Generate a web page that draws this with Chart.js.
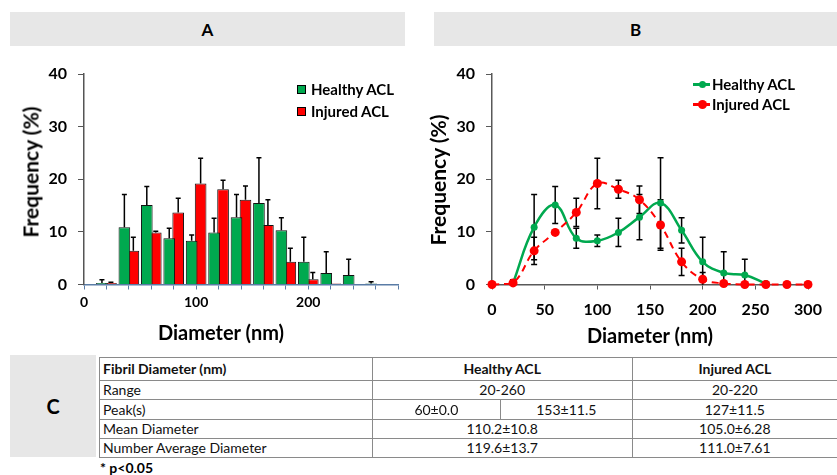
<!DOCTYPE html>
<html>
<head>
<meta charset="utf-8">
<script src="https://cdn.jsdelivr.net/npm/chart.js@4.4.1/dist/chart.umd.min.js"></script>
<style>
html,body{margin:0;padding:0;background:#fff;}
body{width:837px;height:475px;position:relative;overflow:hidden;font-family:Lato,'Open Sans',sans-serif;color:#000;}
.hdr{position:absolute;top:12px;height:34px;background:#e7e7e7;font-weight:bold;font-size:17px;display:flex;align-items:center;justify-content:center;}
canvas{position:absolute;}
.title{position:absolute;font-weight:bold;white-space:nowrap;transform:translate(-50%,-50%);line-height:1;}
.ytitle{transform:translate(-50%,-50%) rotate(-90deg);}
.leg{position:absolute;font-weight:bold;font-size:15px;white-space:nowrap;display:flex;align-items:center;height:20px;}
.sq{width:9px;height:9px;border:1px solid #000;box-sizing:border-box;margin-right:5px;}
.ln{position:relative;width:17px;height:20px;margin-right:2px;}
.ln .bar{position:absolute;left:0;right:0;top:9px;height:2.5px;}
.ln .dot{position:absolute;border-radius:50%;}
#cbox{position:absolute;left:10px;top:355px;width:86px;height:102px;background:#e7e7e7;font-weight:bold;font-size:20px;display:flex;align-items:center;justify-content:center;}
#tbl{position:absolute;left:99px;top:357px;border-collapse:collapse;table-layout:fixed;width:738px;font-size:14px;color:#111;}
#tbl td{border:1px solid #8a8a8a;padding:0 3px;white-space:nowrap;overflow:hidden;line-height:1;}
#tbl td.c{text-align:center;}
#tbl tr.h td{font-weight:bold;}
#note{position:absolute;left:100px;top:459px;font-weight:bold;font-size:14px;}
</style>
</head>
<body>
<div class="hdr" style="left:10px;width:395px;">A</div>
<div class="hdr" style="left:434px;width:403px;">B</div>

<canvas id="cA" width="420" height="300" style="left:0;top:50px;"></canvas>
<canvas id="cB" width="417" height="300" style="left:420px;top:50px;"></canvas>

<div class="title" style="left:221px;top:332px;font-size:20px;">Diameter (nm)</div>
<div class="title ytitle" style="left:30px;top:172px;font-size:21px;">Frequency (%)</div>
<div class="title" style="left:650px;top:335px;font-size:20px;">Diameter (nm)</div>
<div class="title ytitle" style="left:437px;top:180px;font-size:21px;">Frequency (%)</div>

<div id="legA"></div>
<div id="legB"></div>

<div id="cbox">C</div>
<table id="tbl"></table>
<div id="note">* p&lt;0.05</div>

<script>
// ---- data ----
const diameters   = [0, 20, 40, 60, 80, 100, 120, 140, 160, 180, 200, 220, 240, 260, 280, 300];
const healthyFreq = [null, 0.3, 10.9, 15.1, 8.8, 8.3, 9.9, 12.8, 15.5, 10.3, 4.3, 2.2, 1.8, 0.2, null, null];
const healthySD   = [null, 0.6, 6.2, 3.5, 1.9, 1.1, 2.7, 4.3, 8.6, 2.4, 4.7, 4.0, 3.0, 0.3, null, null];
const injuredFreq = [0, 0.3, 6.4, 9.9, 13.7, 19.2, 18.1, 16.1, 11.3, 4.3, 1.0, 0.2, 0, 0, 0, 0];
const injuredSD   = [0, 0.15, 2.6, 0.2, 2.7, 4.8, 1.7, 2.6, 4.8, 2.6, 1.3, 0, 0, 0, 0, 0];
const seriesNames = ['Healthy ACL', 'Injured ACL'];
const xTickLabelsA = [0, 100, 200];
const xTickLabelsB = [0, 50, 100, 150, 200, 250, 300];
const yTickLabels  = [0, 10, 20, 30, 40];

const tableHeader = ['Fibril Diameter (nm)', 'Healthy ACL', 'Injured ACL'];
const tableRowNames = ['Range', 'Peak(s)', 'Mean Diameter', 'Number Average Diameter'];
const tableHealthy = [['20-260'], ['60±0.0', '153±11.5'], ['110.2±10.8'], ['119.6±13.7']];
const tableInjured = ['20-220', '127±11.5', '105.0±6.28', '111.0±7.61'];

// ---- styles ----
const GREEN = '#00a94f';
const RED = '#ff0000';

Chart.defaults.font.family = 'Lato';
Chart.defaults.font.weight = 'bold';
Chart.defaults.color = '#000';

const errorBarsPlugin = {
  id: 'errorBars',
  _draw(chart, o) {
    const ctx = chart.ctx, ys = chart.scales.y;
    ctx.save();
    ctx.strokeStyle = o.color || '#000';
    ctx.lineWidth = o.width || 1.5;
    chart.data.datasets.forEach((ds, i) => {
      if (!ds.errors) return;
      const meta = chart.getDatasetMeta(i);
      meta.data.forEach((el, j) => {
        const p = ds.data[j];
        const v = p && typeof p === 'object' ? p.y : p;
        const e = ds.errors[j];
        if (v == null || !e) return;
        const x = el.x;
        const top = ys.getPixelForValue(v + e);
        const bot = o.symmetric ? ys.getPixelForValue(Math.max(0, v - e)) : ys.getPixelForValue(v);
        ctx.beginPath();
        ctx.moveTo(x, bot); ctx.lineTo(x, top);
        ctx.moveTo(x - o.cap, top); ctx.lineTo(x + o.cap, top);
        if (o.symmetric && v - e > 0) { ctx.moveTo(x - o.cap, bot); ctx.lineTo(x + o.cap, bot); }
        ctx.stroke();
      });
    });
    ctx.restore();
  },
  beforeDatasetsDraw(chart, args, o) { if (o.under) this._draw(chart, o); },
  afterDatasetsDraw(chart, args, o) { if (!o.under) this._draw(chart, o); }
};

function yScale(color) {
  return {
    min: 0, max: 40,
    ticks: { stepSize: 10, padding: 11, font: { size: 16 }, callback: v => yTickLabels.includes(v) ? String(v) : '' },
    grid: { drawOnChartArea: false, drawTicks: true, tickLength: 6, color: color },
    border: { display: true, color: color, width: 1.5 }
  };
}

// ---- Chart A: bars ----
const yA = yScale('#555');
yA.afterFit = s => { s.width = 84; };
new Chart(document.getElementById('cA'), {
  type: 'bar',
  data: {
    datasets: [
      { label: seriesNames[0], data: diameters.map((d, i) => ({ x: d, y: healthyFreq[i] > 0 ? healthyFreq[i] : null })),
        errors: healthySD, backgroundColor: GREEN, borderColor: '#111', borderWidth: 1,
        categoryPercentage: 0.8, barPercentage: 1.3 },
      { label: seriesNames[1], data: diameters.map((d, i) => ({ x: d, y: injuredFreq[i] > 0 ? injuredFreq[i] : null })),
        errors: injuredSD, backgroundColor: RED, borderColor: '#111', borderWidth: 1,
        categoryPercentage: 0.8, barPercentage: 1.3 }
    ]
  },
  options: {
    responsive: false, animation: false, devicePixelRatio: 1,
    layout: { padding: { top: 24, right: 22, left: 0, bottom: 0 } },
    plugins: { legend: { display: false }, tooltip: { enabled: false },
      errorBars: { symmetric: false, cap: 2.5, width: 1.5, under: false } },
    scales: {
      x: { type: 'linear', min: 0, max: 280, offset: false,
        grid: { offset: false, drawOnChartArea: false, drawTicks: true, tickLength: 5, color: '#5a7ca6' },
        border: { display: true, color: '#5a7ca6', width: 1.5 },
        ticks: { stepSize: 20, autoSkip: false, maxRotation: 0, padding: 5, font: { size: 14 },
          callback: v => xTickLabelsA.includes(v) ? String(v) : '' },
        afterFit: s => { s.height = 65.5; } },
      y: yA
    }
  },
  plugins: [errorBarsPlugin]
});

// ---- Chart B: lines ----
const yB = yScale('#595959');
yB.afterFit = s => { s.width = 72; };
new Chart(document.getElementById('cB'), {
  type: 'line',
  data: {
    datasets: [
      { label: seriesNames[0], data: diameters.map((d, i) => ({ x: d, y: healthyFreq[i] })), errors: healthySD,
        borderColor: GREEN, backgroundColor: GREEN, borderWidth: 2.5, tension: 0.4, fill: false,
        pointRadius: 3.5, pointBorderWidth: 0, pointBackgroundColor: GREEN, order: 1, clip: false },
      { label: seriesNames[1], data: diameters.map((d, i) => ({ x: d, y: injuredFreq[i] })), errors: injuredSD,
        borderColor: RED, backgroundColor: RED, borderWidth: 2, borderDash: [7, 5], tension: 0.4, fill: false,
        pointRadius: 4.5, pointBorderWidth: 0, pointBackgroundColor: RED, order: 0, clip: false }
    ]
  },
  options: {
    responsive: false, animation: false, devicePixelRatio: 1,
    layout: { padding: { top: 24, right: 29, left: 0, bottom: 0 } },
    plugins: { legend: { display: false }, tooltip: { enabled: false },
      errorBars: { symmetric: true, cap: 3, width: 1.5, under: true } },
    scales: {
      x: { type: 'linear', min: 0, max: 300,
        grid: { drawOnChartArea: false, drawTicks: true, tickLength: 5, color: '#595959' },
        border: { display: true, color: '#595959', width: 1.5 },
        ticks: { stepSize: 50, autoSkip: false, maxRotation: 0, padding: 11, font: { size: 16 },
          callback: v => xTickLabelsB.includes(v) ? String(v) : '' },
        afterFit: s => { s.height = 65.5; } },
      y: yB
    }
  },
  plugins: [errorBarsPlugin]
});

// ---- legends (HTML) ----
const colors = [GREEN, RED];
const legA = document.getElementById('legA');
[89, 111].forEach((cy, i) => {
  const d = document.createElement('div');
  d.className = 'leg';
  d.style.left = '297px'; d.style.top = (cy - 10) + 'px';
  d.innerHTML = '<div class="sq" style="background:' + colors[i] + '"></div>' + seriesNames[i];
  legA.appendChild(d);
});
const legB = document.getElementById('legB');
const dotR = [3.5, 4.5];
[84, 104].forEach((cy, i) => {
  const d = document.createElement('div');
  d.className = 'leg';
  d.style.left = '693px'; d.style.top = (cy - 10) + 'px';
  const r = dotR[i];
  d.innerHTML = '<div class="ln"><div class="bar" style="background:' + colors[i] + '"></div>' +
    '<div class="dot" style="background:' + colors[i] + ';width:' + (2 * r) + 'px;height:' + (2 * r) +
    'px;left:' + (9.5 - r) + 'px;top:' + (10.2 - r) + 'px"></div></div>' + seriesNames[i];
  legB.appendChild(d);
});

// ---- table ----
const tbl = document.getElementById('tbl');
let html = '<colgroup><col style="width:272.7px"><col style="width:128.3px"><col style="width:131.7px"><col style="width:205.3px"></colgroup>';
html += '<tr class="h" style="height:23px"><td>' + tableHeader[0] + '</td><td class="c" colspan="2">' + tableHeader[1] +
  '</td><td class="c">' + tableHeader[2] + '</td></tr>';
const rowH = [19, 20, 19, 19];
tableRowNames.forEach((name, i) => {
  const h = tableHealthy[i];
  const hc = h.length === 2 ? '<td class="c">' + h[0] + '</td><td class="c">' + h[1] + '</td>'
                            : '<td class="c" colspan="2">' + h[0] + '</td>';
  html += '<tr style="height:' + rowH[i] + 'px"><td>' + name + '</td>' + hc + '<td class="c">' + tableInjured[i] + '</td></tr>';
});
tbl.innerHTML = html;
</script>
</body>
</html>
